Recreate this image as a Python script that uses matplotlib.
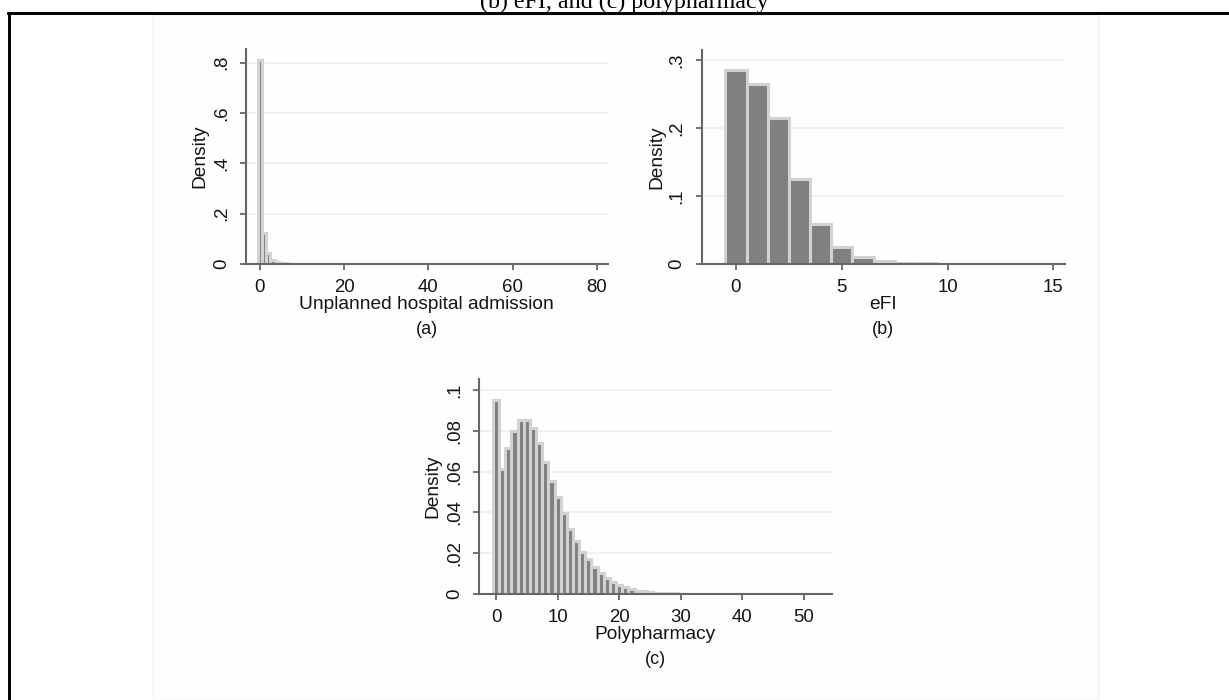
import matplotlib
matplotlib.use('Agg')
import matplotlib.pyplot as plt
from matplotlib.lines import Line2D
from matplotlib.patches import Rectangle

W, H = 1229, 700

# (a) unplanned hospital admission, discrete histogram (density)
adm_x = [0, 1, 2, 3, 4, 5, 6, 7, 8, 9, 10, 21, 23, 25, 27, 33, 35, 43, 57, 59, 68, 76]
adm_d = [0.81, 0.124, 0.042, 0.016, 0.009, 0.004, 0.002, 0.0015, 0.001, 0.0008, 0.0006,
         0.0003, 0.0003, 0.0003, 0.0003, 0.0003, 0.0003, 0.0003, 0.0003, 0.0003, 0.0003, 0.0003]
adm_yticks = [0, 0.2, 0.4, 0.6, 0.8]
adm_ylabels = ['0', '.2', '.4', '.6', '.8']
adm_xticks = [0, 20, 40, 60, 80]

# (b) eFI
efi_x = [0, 1, 2, 3, 4, 5, 6, 7, 8, 9, 10, 11, 12, 13, 14]
efi_d = [0.286, 0.264, 0.215, 0.1245, 0.059, 0.0245, 0.0098, 0.0044, 0.0015, 0.0008,
         0.0004, 0.0003, 0.0002, 0.0002, 0.0001]
efi_yticks = [0, 0.1, 0.2, 0.3]
efi_ylabels = ['0', '.1', '.2', '.3']
efi_xticks = [0, 5, 10, 15]

# (c) polypharmacy
poly_x = list(range(0, 53))
poly_d = [0.095, 0.0611, 0.0714, 0.0799, 0.0853, 0.0853, 0.0812, 0.0739, 0.0649, 0.0556,
          0.0474, 0.0399, 0.0319, 0.026, 0.0208, 0.017, 0.0134, 0.0105, 0.0077, 0.0057,
          0.0044, 0.0033, 0.0023, 0.0016, 0.0013, 0.001, 0.0007, 0.0005, 0.0004, 0.0003,
          0.0002, 0.0002, 0.0002, 0.0001, 0.0001, 0.0001, 0.0001, 0.0001, 0.0001, 0.0001,
          0.0001, 0.0001, 0.0001, 0.0001, 0.0001, 0.0001, 0.0001, 0.0001, 0.0001, 0.0001,
          0.0001, 0.0001, 0.0001]
poly_yticks = [0, 0.02, 0.04, 0.06, 0.08, 0.1]
poly_ylabels = ['0', '.02', '.04', '.06', '.08', '.1']
poly_xticks = [0, 10, 20, 30, 40, 50]

FONT = 'Liberation Sans'
AXCOL = '#666666'
GRIDCOL = '#e8f0f2'
FILL = '#808080'
EDGE = '#d2d2d2'
TXT = '#141414'

fig = plt.figure(figsize=(W / 100, H / 100), dpi=100)
fig.patch.set_facecolor('white')

# faint inner panel and black frame lines
fig.add_artist(Rectangle((153 / W, 0), (1098 - 153) / W, (H - 15) / H, transform=fig.transFigure,
                         facecolor='#fefefe', edgecolor='#f2f2f2', linewidth=1.0, zorder=0))
fig.add_artist(Line2D([8 / W, 1.0], [1 - 13 / H, 1 - 13 / H], transform=fig.transFigure,
                      color='black', linewidth=2.1))
fig.add_artist(Line2D([9 / W, 9 / W], [0, 1 - 13 / H], transform=fig.transFigure,
                      color='black', linewidth=2.1))
fig.text(624 / W, 1 - 8 / H, '(b) eFI, and (c) polypharmacy', family='Liberation Serif',
         fontsize=17.3, ha='center', va='baseline', color='black')


def panel(box, xs, ds, xlim, ylim, xticks, yticks, ylabels, xlabel, tag, ylab_x, xlab_top, tag_y):
    left, right, top, bottom = box
    ax = fig.add_axes([left / W, 1 - bottom / H, (right - left) / W, (bottom - top) / H])
    ax.set_facecolor('none')
    ax.bar(xs, ds, width=1.0, color=FILL, edgecolor=EDGE, linewidth=2.2, zorder=1)
    ax.set_xlim(*xlim)
    ax.set_ylim(*ylim)
    ax.set_yticks(yticks)
    ax.set_yticklabels(ylabels, rotation=90, va='center')
    ax.set_xticks(xticks)
    for s in ['top', 'right']:
        ax.spines[s].set_visible(False)
    for s in ['left', 'bottom']:
        ax.spines[s].set_color(AXCOL)
        ax.spines[s].set_linewidth(1.5)
        ax.spines[s].set_zorder(3)
    ax.tick_params(axis='both', direction='out', length=4.5, width=1.3, color=AXCOL,
                   labelsize=13.4, labelcolor=TXT, pad=6)
    ax.tick_params(axis='y', pad=7)
    for t in ax.get_xticklabels() + ax.get_yticklabels():
        t.set_family(FONT)
    for y in yticks[1:]:
        ax.axhline(y, color=GRIDCOL, linewidth=1.2, zorder=0)
    ax.set_ylabel('Density', family=FONT, fontsize=13.8, color=TXT)
    ax.yaxis.set_label_coords((ylab_x - left) / (right - left), 0.5)
    ax.set_xlabel(xlabel, family=FONT, fontsize=13.8, color=TXT)
    ax.xaxis.set_label_coords(0.5, -(xlab_top - bottom) / (bottom - top))
    fig.text((left + right) / 2 / W, 1 - tag_y / H, tag, family=FONT, fontsize=13,
             ha='center', va='center', color=TXT)
    return ax


panel((246, 607.7, 49, 264), adm_x, adm_d, (-3.3, 82.6), (0, 0.854), adm_xticks,
      adm_yticks, adm_ylabels, 'Unplanned hospital admission', '(a)', 208, 296, 330)
panel((701.7, 1065, 50, 264), efi_x, efi_d, (-1.62, 15.55), (0, 0.3147), efi_xticks,
      efi_yticks, efi_ylabels, 'eFI', '(b)', 665, 296, 330)
panel((479, 831.7, 379.3, 594), poly_x, poly_d, (-2.76, 54.5), (0, 0.1052), poly_xticks,
      poly_yticks, poly_ylabels, 'Polypharmacy', '(c)', 441, 626, 660)

fig.savefig('out.png', dpi=100)
